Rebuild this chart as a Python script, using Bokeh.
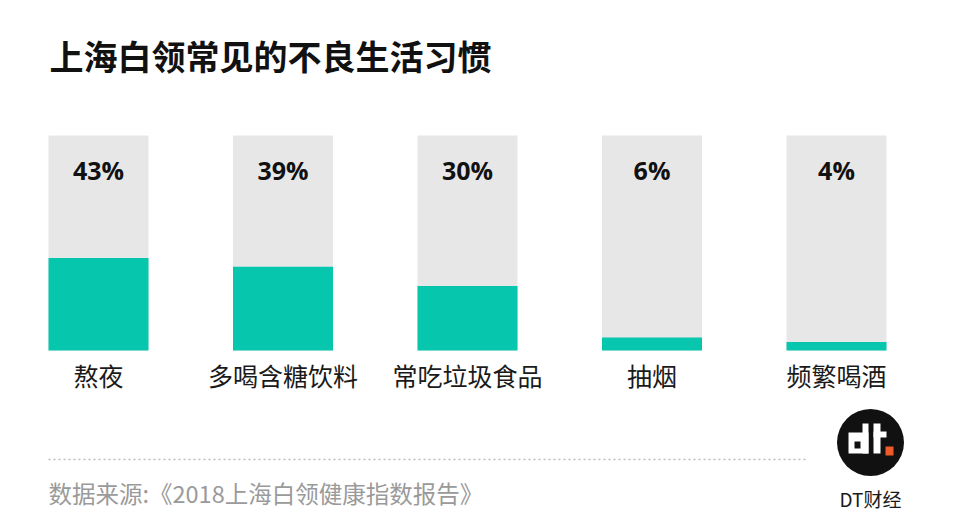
from bokeh.plotting import figure
from bokeh.models import Range1d, Label
from bokeh.embed import file_html
from bokeh.resources import INLINE
from bokeh.core.properties import value

# ---- data ----
categories = ["熬夜", "多喝含糖饮料", "常吃垃圾食品", "抽烟", "频繁喝酒"]
percents = [43, 39, 30, 6, 4]
pct_labels = ["43%", "39%", "30%", "6%", "4%"]
title_text = "上海白领常见的不良生活习惯"
source_text = "数据来源:《2018上海白领健康指数报告》"
brand_text = "DT财经"

# ---- layout constants (canvas px) ----
W, H = 944, 518
BAR_TOP, BAR_BOTTOM = 135, 350          # canvas y of 100% and 0%
PX_PER_PCT = (BAR_BOTTOM - BAR_TOP) / 100.0
X_STEP = 184.5
X0 = 98.0                                # canvas x of first bar center
BAR_W = 100.0 / X_STEP

x_start = -X0 / X_STEP
x_end = (W - X0) / X_STEP
y_start = -(H - BAR_BOTTOM) / PX_PER_PCT
y_end = 100 + BAR_TOP / PX_PER_PCT


def fx(cx):
    return x_start + cx / X_STEP


def fy(cy):
    return y_end - cy / PX_PER_PCT


xs = list(range(len(categories)))

p = figure(width=W, height=H, x_range=Range1d(x_start, x_end), y_range=Range1d(y_start, y_end),
           output_backend="svg", toolbar_location=None, min_border=0,
           x_axis_type=None, y_axis_type=None)
p.grid.visible = False
p.outline_line_color = None
p.background_fill_color = "white"
p.border_fill_color = "white"

GRAY = "#e7e7e7"
GREEN = "#07c6ae"

# background bars (100%)
p.vbar(x=xs, top=[100] * len(xs), bottom=0, width=BAR_W, fill_color=GRAY, line_color=None)
# value bars
p.vbar(x=xs, top=percents, bottom=0, width=BAR_W, fill_color=GREEN, line_color=None)

# percentage labels
p.text(x=xs, y=[100] * len(xs), text=pct_labels, y_offset=34,
       text_align="center", text_baseline="middle",
       text_font=value("Open Sans"), text_font_style="bold",
       text_font_size="25px", text_color="#111111")

# category labels
p.text(x=xs, y=[0] * len(xs), text=categories, y_offset=24,
       text_align="center", text_baseline="middle",
       text_font=value("Noto Sans CJK SC"), text_font_size="25px", text_color="#1a1a1a")

# title
p.add_layout(Label(x=49, y=H - 55, x_units="screen", y_units="screen", text=title_text,
                   text_font="Noto Sans CJK SC", text_font_style="bold", text_font_size="34px",
                   text_color="#111111", text_baseline="middle", text_align="left"))

# dotted separator
p.line(x=[fx(48), fx(808)], y=[fy(459), fy(459)], line_color="#bdbdbd", line_width=1.5,
       line_dash="2 3")

# source
p.add_layout(Label(x=48, y=H - 492, x_units="screen", y_units="screen", text=source_text,
                   text_font="Noto Sans CJK SC", text_font_size="23.5px",
                   text_color="#9a9a9a", text_baseline="middle", text_align="left"))

# logo
p.scatter(x=[fx(870)], y=[fy(442)], size=67, marker="circle", fill_color="#111111", line_color=None)


def block(l, t, r, b, color):
    p.quad(left=[fx(l)], right=[fx(r)], top=[fy(t)], bottom=[fy(b)],
           fill_color=color, line_color=None)


block(848, 432, 868, 453, "white")
block(862, 423, 868, 453, "white")
block(854, 441, 860, 448, "#111111")
block(873, 423, 880, 453, "white")
block(873, 431, 886, 437, "white")
block(885, 446, 893, 455, "#f05a28")

p.add_layout(Label(x=870, y=H - 498, x_units="screen", y_units="screen", text=brand_text,
                   text_font="Noto Sans CJK SC", text_font_style="normal", text_font_size="19px",
                   text_color="#1a1a1a", text_baseline="middle", text_align="center"))

open("out.html", "w").write(file_html(p, INLINE))
